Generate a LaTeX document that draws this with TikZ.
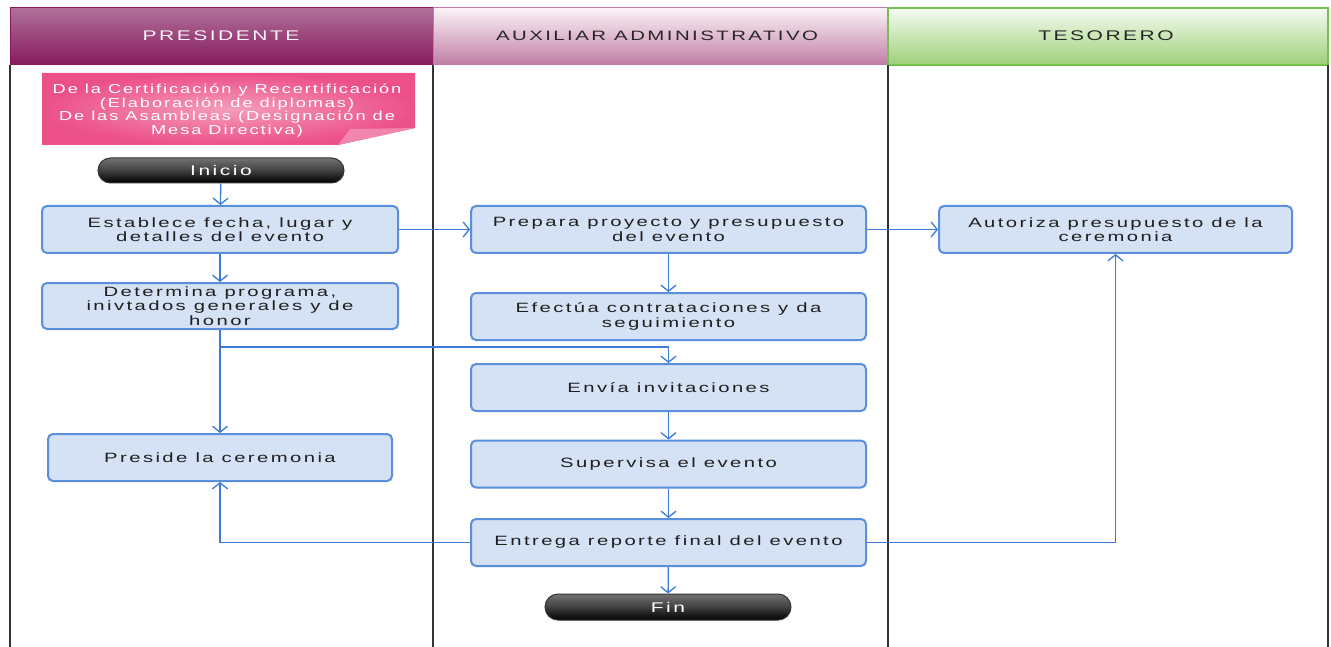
\documentclass[tikz,border=0pt]{standalone}
\usepackage{fontspec}
\setmainfont{Liberation Sans}
\newfontfamily\boxfont{Liberation Sans}[FakeStretch=1.5, LetterSpace=18]
\newfontfamily\headfont{Liberation Sans}[FakeStretch=1.5, LetterSpace=18]
\newfontfamily\notefont{Liberation Sans}[FakeStretch=1.4, LetterSpace=15]
\usetikzlibrary{arrows.meta,positioning,calc}
\definecolor{presTop}{HTML}{B0709A}
\definecolor{presBot}{HTML}{861A5C}
\definecolor{auxTop}{HTML}{FBF3F7}
\definecolor{auxBot}{HTML}{C07DA4}
\definecolor{tesTop}{HTML}{F6FBF2}
\definecolor{tesBot}{HTML}{9DD078}
\definecolor{tesLine}{HTML}{76C04F}
\definecolor{boxFill}{HTML}{D5E1F4}
\definecolor{boxLine}{HTML}{5A8FDB}
\definecolor{conn}{HTML}{3D7BD9}
\definecolor{pinkOut}{HTML}{EC5088}
\definecolor{pinkIn}{HTML}{F59CBB}
\definecolor{laneLine}{HTML}{333333}
\tikzset{
  x=1pt, y=-1pt,
  actbox/.style={draw=boxLine, line width=2pt, fill=boxFill, rounded corners=5pt,
    minimum height=47pt, align=center, inner sep=2pt,
    font=\boxfont\fontsize{13.5}{14.5}\selectfont, text=black!88},
  pill/.style={draw=black!80, line width=1pt, rounded corners=12.5pt,
    top color=black!55, bottom color=black, middle color=black!75,
    minimum width=246pt, minimum height=25pt,
    font=\boxfont\fontsize{14}{14}\selectfont, text=white},
  headtxt/.style={font=\headfont\fontsize{14}{14}\selectfont},
  lane/.style={draw=laneLine, line width=2pt},
  flow/.style={draw=conn, line width=1.3pt, -{Straight Barb[length=6pt,width=15pt,line width=1.3pt]}},
}
\begin{document}
\begin{tikzpicture}
\useasboundingbox (0,0) rectangle (1331,647);
\fill[white] (0,0) rectangle (1331,647);
% headers
\shade[top color=presTop, bottom color=presBot] (10,8) rectangle (433,65);
\draw[presBot, line width=1pt] (10,8) rectangle (433,65);
\shade[top color=auxTop, bottom color=auxBot] (433,8) rectangle (888,65);
\draw[auxBot, line width=1pt] (433,8) rectangle (888,65);
\shade[top color=tesTop, bottom color=tesBot] (888,8) rectangle (1328,65);
\draw[tesLine, line width=1.2pt] (888,8) rectangle (1328,65);
\node[headtxt, text=white!92!presTop] (hpres) at (221,36) {PRESIDENTE};
\node[headtxt, text=black!85, font=\headfont\fontsize{13.6}{14}\selectfont] (haux) at (657,36) {AUXILIAR ADMINISTRATIVO};
\node[headtxt, text=black!85] (htes) at (1106,36) {TESORERO};
% lanes
\draw[lane] (10,65) -- (10,647);
\draw[lane] (433,65) -- (433,647);
\draw[lane] (888,65) -- (888,647);
\draw[lane] (1328,65) -- (1328,647);
% note
\shade[inner color=pinkIn, outer color=pinkOut] (42,73) -- (415,73) -- (415,128) -- (338,145) -- (42,145) -- cycle;
\fill[pinkIn!70!pinkOut] (338,145) -- (350,129) -- (415,128) -- cycle;
\node[font=\notefont\fontsize{13}{13.5}\selectfont, text=white, align=center] (note) at (227,110.5)
  {De la Certificación y Recertificación\\(Elaboración de diplomas)\\De las Asambleas (Designación de\\Mesa Directiva)};
% nodes
\node[pill] (inicio) at (221,170.5) {Inicio};
\node[actbox, minimum width=356pt] (establece) at (220,229.5) {Establece fecha, lugar y\\detalles del evento};
\node[actbox, minimum width=356pt, minimum height=46pt] (determina) at (220,306) {Determina programa,\\inivtados generales y de\\honor};
\node[actbox, minimum width=344pt] (preside) at (220,457.5) {Preside la ceremonia};
\node[actbox, minimum width=395pt] (prepara) at (668.5,229.5) {Prepara proyecto y presupuesto\\del evento};
\node[actbox, minimum width=395pt] (efectua) at (668.5,316.5) {Efectúa contrataciones y da\\seguimiento};
\node[actbox, minimum width=395pt] (envia) at (668.5,387.5) {Envía invitaciones};
\node[actbox, minimum width=395pt] (supervisa) at (668.5,464) {Supervisa el evento};
\node[actbox, minimum width=395pt] (entrega) at (668.5,542.5) {Entrega reporte final del evento};
\node[pill, minimum height=26pt, rounded corners=13pt] (fin) at (668,607) {Fin};
\node[actbox, minimum width=353pt] (autoriza) at (1115.5,229.5) {Autoriza presupuesto de la\\ceremonia};
\coordinate (br) at (220,347);
% connectors
\draw[flow] (inicio) -- (establece);
\draw[flow] (establece) -- (determina);
\draw[flow] (establece) -- (prepara);
\draw[flow] (prepara) -- (autoriza);
\draw[flow] (prepara) -- (efectua);
\draw[flow] (determina.south) -- (preside.north);
\draw[flow] (br) -| (envia.north);
\draw[flow] (envia) -- (supervisa);
\draw[flow] (supervisa) -- (entrega);
\draw[flow] (entrega) -- (fin);
\draw[flow] (entrega.west) -| (preside.south);
\draw[flow] (entrega.east) -| (autoriza.south);
\end{tikzpicture}
\end{document}
